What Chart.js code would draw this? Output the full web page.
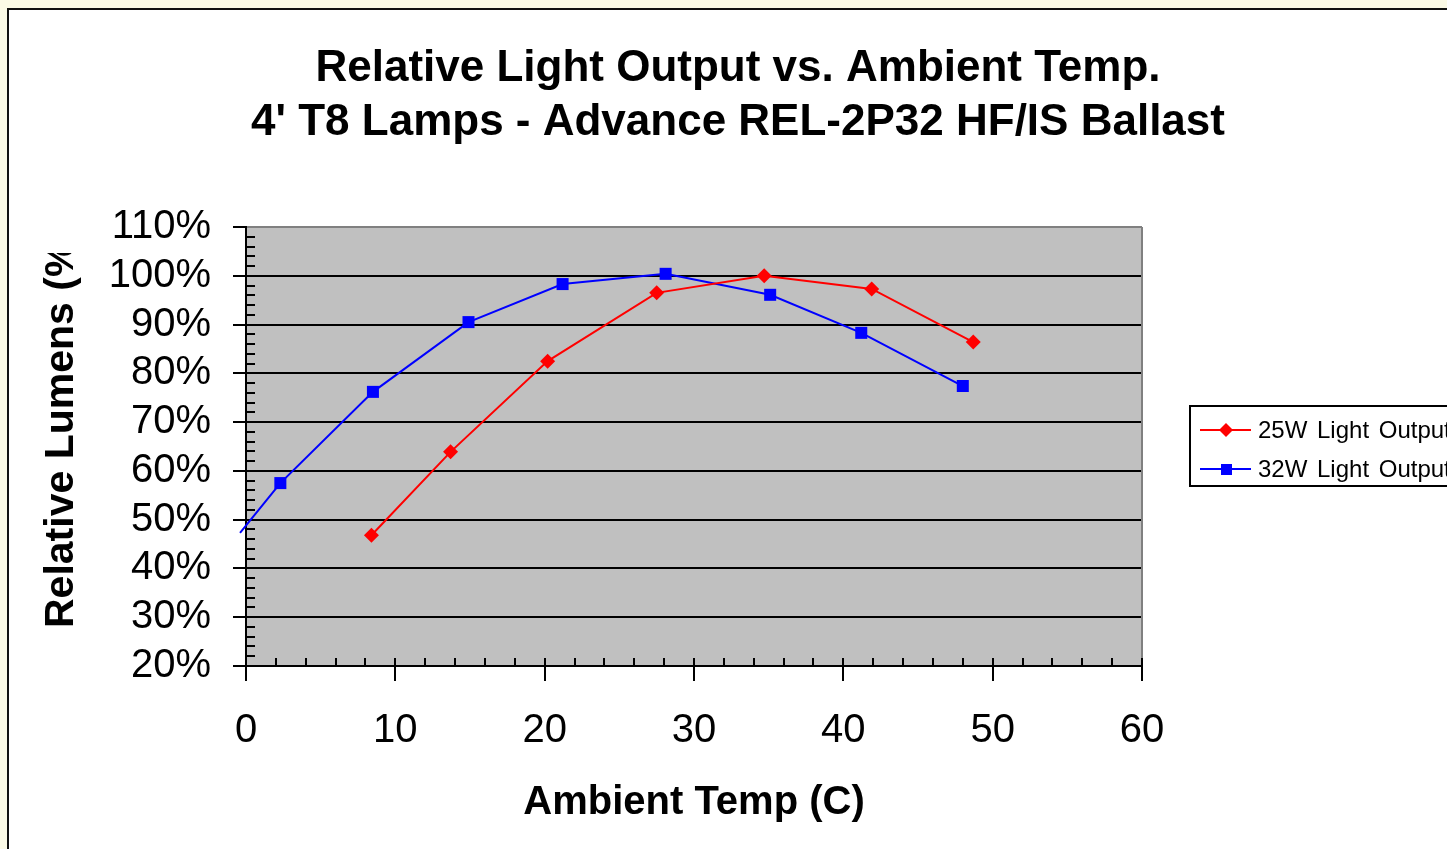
<!DOCTYPE html>
<html>
<head>
<meta charset="utf-8">
<title>Relative Light Output vs. Ambient Temp.</title>
<script src="https://cdn.jsdelivr.net/npm/chart.js@4/dist/chart.umd.min.js"></script>
<style>
  html, body { margin: 0; padding: 0; overflow: hidden; background: #fbfae6; }
  #frame {
    position: absolute; left: 7px; top: 8px;
    width: 1500px; height: 900px;
    border: 2px solid #111; background: #fff; overflow: hidden;
  }
  #chart { display: block; }
</style>
</head>
<body>
<div id="frame">
  <canvas id="chart" width="1458" height="900" style="width:1458px;height:900px"></canvas>
</div>
<script>
// values
const temps25 = [8.4, 13.7, 20.2, 27.5, 34.7, 41.9, 48.7];
const lumens25 = [46.8, 63.9, 82.5, 96.5, 100.0, 97.3, 86.4];
const temps32 = [-0.4, 2.3, 8.5, 14.9, 21.2, 28.1, 35.1, 41.2, 48.0];
const lumens32 = [47.3, 57.5, 76.2, 90.5, 98.3, 100.4, 96.1, 88.3, 77.4];

const seriesNames = ['25W Light Output', '32W Light Output'];
const titleLines = ['Relative Light Output vs. Ambient Temp.', "4' T8 Lamps - Advance REL-2P32 HF/IS Ballast"];
const xTitle = 'Ambient Temp (C)';
const yTitle = 'Relative Lumens (%)';

const FONT = "'Liberation Sans', Arial, sans-serif";
Chart.defaults.font.family = FONT;
Chart.defaults.color = '#000';

function toPoints(xs, ys) {
    return xs.map((x, i) => ({ x: x, y: ys[i] }));
}

// grey plot area
const plotBackground = {
    id: 'plotBackground',
    beforeDraw(chart) {
        const { ctx, chartArea: a } = chart;
        ctx.save();
        ctx.fillStyle = '#c0c0c0';
        ctx.fillRect(a.left, a.top, a.right - a.left, a.bottom - a.top);
        ctx.restore();
    }
};

// minor ticks, right border, rotated y title
const axisExtras = {
    id: 'axisExtras',
    beforeDatasetsDraw(chart) {
        const { ctx, chartArea: a, scales } = chart;
        ctx.save();
        ctx.strokeStyle = '#808080';
        ctx.lineWidth = 2;
        ctx.beginPath();
        ctx.moveTo(a.right, a.top);
        ctx.lineTo(a.right, a.bottom);
        ctx.stroke();

        ctx.strokeStyle = '#000';
        ctx.beginPath();
        for (let v = 0; v <= 60; v += 2) {
            const px = Math.round(scales.x.getPixelForValue(v));
            ctx.moveTo(px, a.bottom - 8);
            ctx.lineTo(px, a.bottom);
        }
        for (let v = 22; v < 110; v += 2) {
            if (v % 10 === 0) continue;
            const py = Math.round(scales.y.getPixelForValue(v));
            ctx.moveTo(a.left, py);
            ctx.lineTo(a.left + 9, py);
        }
        ctx.stroke();
        ctx.restore();

        // y title, clipped at the top like the original
        ctx.save();
        ctx.beginPath();
        ctx.rect(0, 243, 200, 700);
        ctx.clip();
        ctx.translate(53, 618);
        ctx.rotate(-Math.PI / 2);
        ctx.font = 'bold 41px ' + FONT;
        ctx.fillStyle = '#000';
        ctx.textAlign = 'left';
        ctx.textBaseline = 'middle';
        ctx.fillText(yTitle, 0, 0);
        ctx.restore();
    }
};

// boxed legend with line + marker samples
const boxLegend = {
    id: 'boxLegend',
    afterDraw(chart) {
        const ctx = chart.ctx;
        const left = 1181, top = 396;
        ctx.save();
        ctx.fillStyle = '#fff';
        ctx.fillRect(left, top, 320, 80);
        ctx.strokeStyle = '#000';
        ctx.lineWidth = 2;
        ctx.strokeRect(left, top, 320, 80);
        ctx.font = '24px ' + FONT;
        ctx.wordSpacing = '3px';
        ctx.textBaseline = 'middle';
        chart.data.datasets.forEach((ds, i) => {
            const y = top + 24 + i * 39;
            ctx.strokeStyle = ds.borderColor;
            ctx.lineWidth = 2;
            ctx.beginPath();
            ctx.moveTo(left + 10, y);
            ctx.lineTo(left + 61, y);
            ctx.stroke();
            ctx.fillStyle = ds.backgroundColor;
            ctx.beginPath();
            if (ds.pointStyle === 'rect') {
                ctx.rect(left + 31, y - 5, 11, 11);
            } else {
                ctx.moveTo(left + 36, y - 7);
                ctx.lineTo(left + 43, y);
                ctx.lineTo(left + 36, y + 7);
                ctx.lineTo(left + 29, y);
                ctx.closePath();
            }
            ctx.fill();
            ctx.fillStyle = '#000';
            ctx.fillText(ds.label, left + 68, y + 1);
        });
        ctx.restore();
    }
};

new Chart(document.getElementById('chart'), {
    type: 'line',
    data: {
        datasets: [
            {
                label: seriesNames[0],
                data: toPoints(temps25, lumens25),
                borderColor: '#ff0000',
                backgroundColor: '#ff0000',
                borderWidth: 2,
                pointStyle: 'rectRot',
                pointRadius: 7.5,
                pointBorderWidth: 0,
                tension: 0
            },
            {
                label: seriesNames[1],
                data: toPoints(temps32, lumens32),
                borderColor: '#0000ff',
                backgroundColor: '#0000ff',
                borderWidth: 2,
                pointStyle: 'rect',
                pointRadius: c => (c.parsed && c.parsed.x < 0 ? 0 : 8.5),
                pointBorderWidth: 0,
                tension: 0,
                clip: { left: 8, top: 10, right: 10, bottom: 10 }
            }
        ]
    },
    options: {
        responsive: false,
        animation: false,
        devicePixelRatio: 1,
        layout: { padding: 0 },
        plugins: {
            legend: { display: false },
            tooltip: { enabled: false },
            title: {
                display: true,
                text: titleLines,
                color: '#000',
                font: { size: 44, weight: 'bold', lineHeight: 54 / 44 },
                padding: { top: 32, bottom: 77 }
            }
        },
        scales: {
            x: {
                type: 'linear',
                min: 0,
                max: 60,
                afterFit: s => { s.height = 244; },
                ticks: { stepSize: 10, autoSkip: false, maxRotation: 0, padding: 26, color: '#000', font: { size: 40 } },
                grid: { drawOnChartArea: false, color: '#000', lineWidth: 2, tickLength: 15 },
                border: { display: true, color: '#000', width: 2 },
                title: {
                    display: true,
                    text: xTitle,
                    color: '#000',
                    font: { size: 40, weight: 'bold' },
                    padding: { top: 0, bottom: 83 }
                }
            },
            y: {
                min: 20,
                max: 110,
                afterFit: s => { s.width = 237; },
                ticks: { stepSize: 10, autoSkip: false, padding: 22, color: '#000', font: { size: 40 }, callback: v => v + '%' },
                grid: {
                    color: c => (c.tick && c.tick.value === 110 ? '#808080' : '#000'),
                    tickColor: '#000',
                    lineWidth: 2,
                    tickLength: 13
                },
                border: { display: true, color: '#000', width: 2 }
            },
            // empty right-hand axis that reserves the legend column so the title stays centred on the frame
            legendSpace: {
                type: 'linear',
                position: 'right',
                afterFit: s => { s.width = 325; },
                ticks: { display: false },
                grid: { display: false },
                border: { display: false }
            }
        }
    },
    plugins: [plotBackground, axisExtras, boxLegend]
});
</script>
</body>
</html>
